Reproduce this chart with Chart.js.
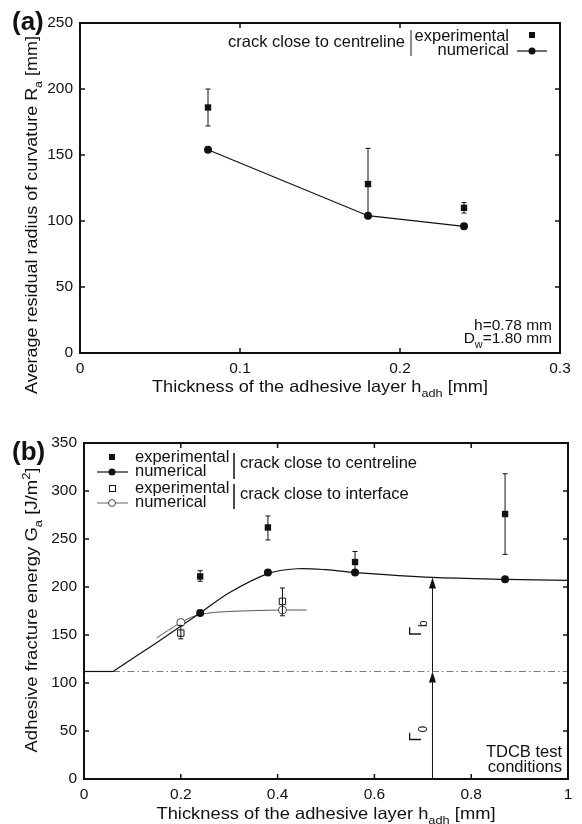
<!DOCTYPE html>
<html>
<head>
<meta charset="utf-8">
<script src="https://cdn.jsdelivr.net/npm/chart.js@4.4.1/dist/chart.umd.min.js"></script>
<style>
  body { margin: 0; background: #fff; }
  #wrap { position: relative; width: 582px; height: 824px; }
  canvas { position: absolute; left: 0; }
  #chart-a { top: 0; }
  #chart-b { top: 400px; }
</style>
</head>
<body>
<div id="wrap">
  <canvas id="chart-a" width="582" height="400"></canvas>
  <canvas id="chart-b" width="582" height="424"></canvas>
</div>
<script>
const FONT = '"Liberation Sans", Arial, Helvetica, sans-serif';
const INK = '#111';

// panel (a): residual radius of curvature
const aExpX = [0.08, 0.18, 0.24];
const aExpY = [186, 128, 110];
const aExpHi = [200, 155, 114];
const aExpLo = [172, 102, 106];
const aNumX = [0.08, 0.18, 0.24];
const aNumY = [154, 104, 96];

// panel (b): adhesive fracture energy
const bExpCX = [0.24, 0.38, 0.56, 0.87];
const bExpCY = [211, 262, 226, 276];
const bExpCHi = [217, 274, 237, 318];
const bExpCLo = [206, 249, 215, 234];
const bNumCX = [0.24, 0.38, 0.56, 0.87];
const bNumCY = [173, 215, 215, 208];
const bExpIX = [0.20, 0.41];
const bExpIY = [152, 185];
const bExpIHi = [160, 199];
const bExpILo = [146, 170];
const bNumIX = [0.20, 0.41];
const bNumIY = [163, 176];
// fitted curves (plateau at gamma0 before the first point)
const bCurveCX = [0.06, 0.15, 0.24, 0.30, 0.38, 0.44, 0.50, 0.56, 0.72, 0.87, 1.0];
const bCurveCY = [112, 142, 173, 194, 214, 219, 218, 215, 210, 208, 207];
const bCurveIX = [0.15, 0.20, 0.23, 0.26, 0.30, 0.36, 0.41, 0.46];
const bCurveIY = [147, 163, 170, 173, 174.5, 175.5, 176, 176];
const gamma0 = 112;
const gammaTop = 210;
const arrowX = 0.72;

Chart.defaults.font.family = FONT;
Chart.defaults.color = INK;

function zip(xs, ys) {
  return xs.map((x, i) => ({ x: x, y: ys[i] }));
}

// text with sub/superscripts; optional target width stretches it along the line
function richText(ctx, parts, x, y, size, align, rotate, target) {
  ctx.save();
  ctx.translate(x, y);
  if (rotate) ctx.rotate(rotate);
  const fontFor = p => (p[1] ? size * 0.7 : size) + 'px ' + FONT;
  let w = 0;
  parts.forEach(p => { ctx.font = fontFor(p); w += ctx.measureText(p[0]).width; });
  if (target) ctx.scale(target / w, 1);
  let cx = align === 'center' ? -w / 2 : align === 'right' ? -w : 0;
  ctx.textAlign = 'left';
  ctx.textBaseline = 'alphabetic';
  ctx.fillStyle = INK;
  parts.forEach(p => {
    ctx.font = fontFor(p);
    const dy = p[1] === 'sub' ? size * 0.3 : p[1] === 'sup' ? -size * 0.45 : 0;
    ctx.fillText(p[0], cx, dy);
    cx += ctx.measureText(p[0]).width;
  });
  ctx.restore();
}

function text(ctx, str, x, y, size, align, bold) {
  ctx.save();
  ctx.font = (bold ? 'bold ' : '') + size + 'px ' + FONT;
  ctx.textAlign = align;
  ctx.textBaseline = 'alphabetic';
  ctx.fillStyle = INK;
  ctx.fillText(str, x, y);
  ctx.restore();
}

function errorBars(chart, xs, lo, hi) {
  const { ctx, scales: { x, y } } = chart;
  ctx.save();
  ctx.strokeStyle = INK;
  ctx.lineWidth = 1;
  xs.forEach((v, i) => {
    const px = x.getPixelForValue(v);
    const p1 = y.getPixelForValue(lo[i]);
    const p2 = y.getPixelForValue(hi[i]);
    ctx.beginPath();
    ctx.moveTo(px, p1); ctx.lineTo(px, p2);
    ctx.moveTo(px - 2.5, p1); ctx.lineTo(px + 2.5, p1);
    ctx.moveTo(px - 2.5, p2); ctx.lineTo(px + 2.5, p2);
    ctx.stroke();
  });
  ctx.restore();
}

// frame with inward ticks on all four sides
const framePlugin = {
  id: 'frame',
  afterDraw(chart) {
    const { ctx, chartArea: a, scales: { x, y } } = chart;
    ctx.save();
    ctx.strokeStyle = INK;
    ctx.lineWidth = 1.5;
    ctx.beginPath();
    x.ticks.forEach(t => {
      const px = x.getPixelForValue(t.value);
      ctx.moveTo(px, a.bottom); ctx.lineTo(px, a.bottom - 5);
      ctx.moveTo(px, a.top); ctx.lineTo(px, a.top + 5);
    });
    y.ticks.forEach(t => {
      const py = y.getPixelForValue(t.value);
      ctx.moveTo(a.left, py); ctx.lineTo(a.left + 5, py);
      ctx.moveTo(a.right, py); ctx.lineTo(a.right - 5, py);
    });
    ctx.stroke();
    ctx.lineWidth = 2;
    ctx.strokeRect(a.left, a.top, a.right - a.left, a.bottom - a.top);
    ctx.restore();
  }
};

function axes(xMax, xStep, yMax, xFit, yFit) {
  const common = {
    type: 'linear',
    min: 0,
    grid: { display: false, drawTicks: false },
    border: { display: false }
  };
  return {
    x: Object.assign({}, common, {
      max: xMax,
      ticks: {
        stepSize: xStep, padding: 6, maxRotation: 0, font: { size: 15.5 }, color: INK,
        callback: v => String(+v.toFixed(2))
      },
      afterFit: s => { s.height = xFit; }
    }),
    y: Object.assign({}, common, {
      max: yMax,
      ticks: { stepSize: 50, padding: 7, font: { size: 15.5 }, color: INK },
      afterFit: s => { s.width = yFit; }
    })
  };
}

const baseOptions = {
  responsive: false,
  animation: false,
  plugins: { legend: { display: false }, tooltip: { enabled: false } }
};

// ---------- panel (a) ----------
const annotateA = {
  id: 'annotateA',
  afterDatasetsDraw(chart) {
    errorBars(chart, aExpX, aExpLo, aExpHi);
  },
  afterDraw(chart) {
    const ctx = chart.ctx;
    text(ctx, '(a)', 12, 30, 26, 'left', true);
    text(ctx, 'crack close to centreline', 405, 47, 16.5, 'right');
    ctx.save();
    ctx.strokeStyle = '#666';
    ctx.lineWidth = 1.5;
    ctx.beginPath(); ctx.moveTo(411, 30); ctx.lineTo(411, 56); ctx.stroke();
    ctx.restore();
    text(ctx, 'experimental', 509, 41, 16.5, 'right');
    text(ctx, 'numerical', 509, 55, 16.5, 'right');
    ctx.save();
    ctx.fillStyle = INK;
    ctx.fillRect(529, 32, 6, 6);
    ctx.strokeStyle = INK;
    ctx.lineWidth = 1.2;
    ctx.beginPath(); ctx.moveTo(517, 51); ctx.lineTo(547, 51); ctx.stroke();
    ctx.beginPath(); ctx.arc(532, 51, 3.5, 0, Math.PI * 2); ctx.fill();
    ctx.restore();
    text(ctx, 'h=0.78 mm', 552, 330, 15.5, 'right');
    richText(ctx, [['D'], ['w', 'sub'], ['=1.80 mm']], 552, 343, 15.5, 'right');
    richText(ctx, [['Thickness of the adhesive layer h'], ['adh', 'sub'], [' [mm]']], 320, 392, 16.5, 'center', 0, 336);
    richText(ctx, [['Average residual radius of curvature R'], ['a', 'sub'], [' [mm]']], 37, 215, 16.5, 'center', -Math.PI / 2, 358);
  }
};

new Chart(document.getElementById('chart-a'), {
  type: 'scatter',
  data: {
    datasets: [
      {
        label: 'experimental',
        data: zip(aExpX, aExpY),
        pointStyle: 'rect',
        pointRadius: 4.5,
        backgroundColor: INK,
        borderColor: INK,
        borderWidth: 0
      },
      {
        label: 'numerical',
        data: zip(aNumX, aNumY),
        showLine: true,
        borderColor: INK,
        borderWidth: 1.2,
        pointRadius: 4,
        pointBackgroundColor: INK,
        pointBorderWidth: 0
      }
    ]
  },
  options: Object.assign({}, baseOptions, {
    layout: { padding: { left: 0, right: 22, top: 23, bottom: 0 } },
    scales: axes(0.3, 0.1, 250, 47, 80)
  }),
  plugins: [framePlugin, annotateA]
});

// ---------- panel (b) ----------
const annotateB = {
  id: 'annotateB',
  afterDatasetsDraw(chart) {
    const { ctx, scales: { x, y } } = chart;
    errorBars(chart, bExpCX, bExpCLo, bExpCHi);
    errorBars(chart, bExpIX, bExpILo, bExpIHi);
    // Gamma_0 and Gamma_b arrows
    const px = x.getPixelForValue(arrowX);
    ctx.save();
    ctx.strokeStyle = INK;
    ctx.fillStyle = INK;
    ctx.lineWidth = 1;
    [[0, gamma0], [gamma0, gammaTop]].forEach(([from, to]) => {
      const p1 = y.getPixelForValue(from);
      const p2 = y.getPixelForValue(to);
      ctx.beginPath(); ctx.moveTo(px, p1); ctx.lineTo(px, p2 + 8); ctx.stroke();
      ctx.beginPath();
      ctx.moveTo(px, p2);
      ctx.lineTo(px - 3.5, p2 + 11);
      ctx.lineTo(px + 3.5, p2 + 11);
      ctx.closePath();
      ctx.fill();
    });
    ctx.restore();
    richText(ctx, [['\u0393'], ['0', 'sub']], px - 11, y.getPixelForValue(47), 17, 'center', -Math.PI / 2);
    richText(ctx, [['\u0393'], ['b', 'sub']], px - 11, y.getPixelForValue(157), 17, 'center', -Math.PI / 2);
  },
  afterDraw(chart) {
    const ctx = chart.ctx;
    text(ctx, '(b)', 12, 60, 26, 'left', true);
    // legend block
    ctx.save();
    ctx.fillStyle = INK;
    ctx.strokeStyle = INK;
    ctx.fillRect(109, 54, 6, 6);
    ctx.lineWidth = 1.2;
    ctx.beginPath(); ctx.moveTo(97, 72); ctx.lineTo(128, 72); ctx.stroke();
    ctx.beginPath(); ctx.arc(112, 72, 3.5, 0, Math.PI * 2); ctx.fill();
    ctx.lineWidth = 1;
    ctx.fillStyle = '#fff';
    ctx.fillRect(109, 85, 6, 6);
    ctx.strokeRect(109.5, 85.5, 6, 6);
    ctx.strokeStyle = '#666';
    ctx.beginPath(); ctx.moveTo(97, 103); ctx.lineTo(128, 103); ctx.stroke();
    ctx.strokeStyle = '#444';
    ctx.beginPath(); ctx.arc(112, 103, 3.5, 0, Math.PI * 2); ctx.fill(); ctx.stroke();
    ctx.strokeStyle = INK;
    ctx.lineWidth = 1.5;
    ctx.beginPath();
    ctx.moveTo(234, 53); ctx.lineTo(234, 79);
    ctx.moveTo(234, 84); ctx.lineTo(234, 109);
    ctx.stroke();
    ctx.restore();
    text(ctx, 'experimental', 135, 62, 16.5, 'left');
    text(ctx, 'numerical', 135, 76, 16.5, 'left');
    text(ctx, 'experimental', 135, 93, 16.5, 'left');
    text(ctx, 'numerical', 135, 107, 16.5, 'left');
    text(ctx, 'crack close to centreline', 240, 68, 16.5, 'left');
    text(ctx, 'crack close to interface', 240, 99, 16.5, 'left');
    text(ctx, 'TDCB test', 562, 357, 16.5, 'right');
    text(ctx, 'conditions', 562, 372, 16.5, 'right');
    richText(ctx, [['Thickness of the adhesive layer h'], ['adh', 'sub'], [' [mm]']], 326, 419, 16.5, 'center', 0, 339);
    richText(ctx, [['Adhesive fracture energy G'], ['a', 'sub'], [' [J/m'], ['2', 'sup'], [']']], 37, 210, 16.5, 'center', -Math.PI / 2, 285);
  }
};

new Chart(document.getElementById('chart-b'), {
  type: 'scatter',
  data: {
    datasets: [
      {
        label: 'experimental centreline',
        data: zip(bExpCX, bExpCY),
        pointStyle: 'rect',
        pointRadius: 4.5,
        backgroundColor: INK,
        borderColor: INK,
        borderWidth: 0
      },
      {
        label: 'experimental interface',
        data: zip(bExpIX, bExpIY),
        pointStyle: 'rect',
        pointRadius: 4.5,
        backgroundColor: '#fff',
        borderColor: INK,
        borderWidth: 1
      },
      {
        label: 'numerical centreline',
        data: zip(bNumCX, bNumCY),
        pointRadius: 4,
        backgroundColor: INK,
        borderWidth: 0
      },
      {
        label: 'numerical interface',
        data: zip(bNumIX, bNumIY),
        pointRadius: 4,
        backgroundColor: '#fff',
        borderColor: '#444',
        borderWidth: 1
      },
      {
        label: 'fit centreline',
        data: zip(bCurveCX, bCurveCY),
        showLine: true,
        tension: 0.3,
        borderColor: INK,
        borderWidth: 1.2,
        pointRadius: 0
      },
      {
        label: 'fit plateau',
        data: zip([0, bCurveCX[0]], [gamma0, bCurveCY[0]]),
        showLine: true,
        borderColor: INK,
        borderWidth: 1.2,
        pointRadius: 0
      },
      {
        label: 'fit interface',
        data: zip(bCurveIX, bCurveIY),
        showLine: true,
        tension: 0.3,
        borderColor: '#555',
        borderWidth: 1,
        pointRadius: 0
      },
      {
        label: 'Gamma 0',
        data: zip([0, 1], [gamma0, gamma0]),
        showLine: true,
        borderColor: '#777',
        borderWidth: 1,
        borderDash: [7, 3, 1.5, 3],
        pointRadius: 0
      }
    ]
  },
  options: Object.assign({}, baseOptions, {
    layout: { padding: { left: 0, right: 14, top: 43, bottom: 0 } },
    scales: axes(1, 0.2, 350, 45, 84)
  }),
  plugins: [framePlugin, annotateB]
});
</script>
</body>
</html>
